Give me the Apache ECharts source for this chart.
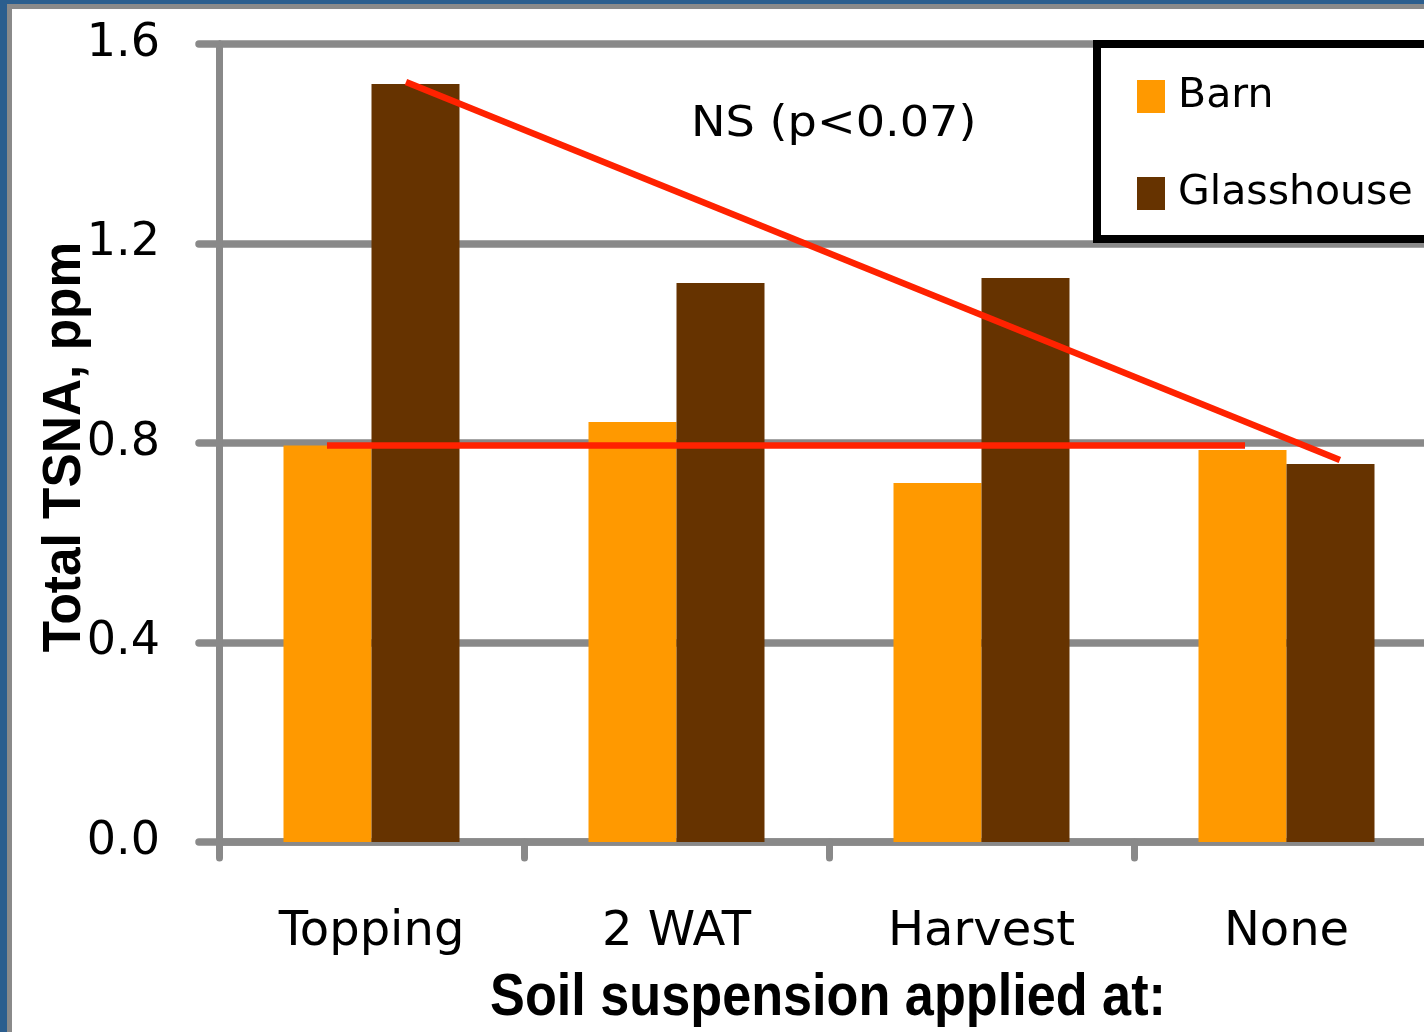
<!DOCTYPE html>
<html>
<head>
<meta charset="utf-8">
<script src="https://cdn.jsdelivr.net/npm/echarts@6/dist/echarts.min.js"></script>
<style>
  html, body { margin: 0; padding: 0; background: #ffffff; overflow: hidden; }
  /* the plot runs on past the right edge of the page, so the canvas is wider than the window */
  #chart { width: 1460px; height: 1032px; }
</style>
</head>
<body>
<div id="chart"></div>
<script>
// Soil suspension timing vs. total TSNA
const categories = ['Topping', '2 WAT', 'Harvest', 'None'];
const barnValues = [0.795, 0.842, 0.72, 0.786];
const glasshouseValues = [1.52, 1.121, 1.131, 0.758];
const yTicks = { min: 0, max: 1.6, interval: 0.4 };

// Trend lines, in (category position, ppm); category positions run 0..4 across the axis
const barnTrend = [[0.354, 0.795], [3.364, 0.795]];
const glasshouseTrend = [[0.613, 1.524], [3.675, 0.766]];

const seriesNames = ['Barn', 'Glasshouse'];
const annotation = 'NS (p<0.07)';
const xTitle = 'Soil suspension applied at:';
const yTitle = 'Total TSNA, ppm';

const GRID_GRAY = '#898989';
const TREND_RED = '#ff2200';
const BASE_FONT = 'DejaVu Sans';
const TITLE_FONT = '"Liberation Sans", Arial, sans-serif';

const chart = echarts.init(document.getElementById('chart'), null, { renderer: 'canvas' });

chart.setOption({
  backgroundColor: '#ffffff',
  animation: false,
  grid: { left: 219, top: 44, width: 1220, height: 798, containLabel: false },
  legend: {
    data: seriesNames,
    orient: 'vertical',
    left: 1097,
    top: 44,
    padding: [32, 200, 25, 40],
    itemGap: 56,
    itemWidth: 28,
    itemHeight: 33,
    icon: 'rect',
    backgroundColor: '#ffffff',
    borderColor: '#000000',
    borderWidth: 8,
    textStyle: { fontFamily: BASE_FONT, fontSize: 41, color: '#000000', lineHeight: 33, padding: [0, 0, 0, 8] }
  },
  xAxis: [
    {
      type: 'category',
      data: categories,
      boundaryGap: true,
      axisLine: { show: true, lineStyle: { color: GRID_GRAY, width: 7.5, cap: 'round' } },
      axisTick: { show: true, inside: false, length: 16, alignWithLabel: false, lineStyle: { color: GRID_GRAY, width: 7, cap: 'round' } },
      axisLabel: { fontFamily: BASE_FONT, fontSize: 48, color: '#000000', margin: 67, lineHeight: 48 },
      splitLine: { show: false }
    },
    {
      type: 'value',
      min: 0,
      max: 4,
      show: false
    }
  ],
  yAxis: {
    type: 'value',
    min: yTicks.min,
    max: yTicks.max,
    interval: yTicks.interval,
    axisLine: { show: true, lineStyle: { color: GRID_GRAY, width: 7, cap: 'round' } },
    axisTick: { show: true, inside: false, length: 20, lineStyle: { color: GRID_GRAY, width: 7.5, cap: 'round' } },
    axisLabel: {
      fontFamily: BASE_FONT, fontSize: 46, color: '#000000', margin: 59,
      formatter: v => v.toFixed(1)
    },
    splitLine: { show: true, lineStyle: { color: GRID_GRAY, width: 7.5 } }
  },
  series: [
    {
      name: seriesNames[0],
      type: 'bar',
      data: barnValues,
      barWidth: 88,
      barGap: '0%',
      itemStyle: { color: '#ff9900' },
      z: 2
    },
    {
      name: seriesNames[1],
      type: 'bar',
      data: glasshouseValues,
      barWidth: 88,
      barGap: '0%',
      itemStyle: { color: '#663300' },
      z: 2
    },
    {
      name: 'barn-trend',
      type: 'line',
      xAxisIndex: 1,
      yAxisIndex: 0,
      data: barnTrend,
      symbol: 'none',
      lineStyle: { color: TREND_RED, width: 6.5, cap: 'butt' },
      z: 5,
      silent: true
    },
    {
      name: 'glasshouse-trend',
      type: 'line',
      xAxisIndex: 1,
      yAxisIndex: 0,
      data: glasshouseTrend,
      symbol: 'none',
      lineStyle: { color: TREND_RED, width: 6.5, cap: 'butt' },
      z: 5,
      silent: true
    }
  ],
  graphic: [
    // slide frame along the top and left edges
    { type: 'rect', left: 0, top: 0, shape: { width: 1460, height: 4 }, style: { fill: '#2b5e8e' }, z: 10 },
    { type: 'rect', left: 0, top: 0, shape: { width: 7, height: 1032 }, style: { fill: '#2b5e8e' }, z: 10 },
    { type: 'rect', left: 7, top: 4, shape: { width: 1453, height: 5 }, style: { fill: '#8a8a8a' }, z: 10 },
    { type: 'rect', left: 7, top: 4, shape: { width: 5, height: 1028 }, style: { fill: '#8a8a8a' }, z: 10 },
    {
      type: 'text',
      x: 691,
      y: 104,
      scaleX: 1.1,
      style: { text: annotation, fontFamily: BASE_FONT, fontSize: 42, fill: '#000000' },
      z: 10
    },
    // axis titles in a condensed bold face
    {
      type: 'text',
      x: 828,
      y: 998,
      scaleX: 0.87,
      style: {
        text: xTitle, fontFamily: TITLE_FONT, fontWeight: 'bold', fontSize: 60, fill: '#000000',
        align: 'center', verticalAlign: 'middle'
      },
      z: 10
    },
    {
      type: 'text',
      x: 65,
      y: 447,
      rotation: Math.PI / 2,
      scaleX: 0.97,
      style: {
        text: yTitle, fontFamily: TITLE_FONT, fontWeight: 'bold', fontSize: 53, fill: '#000000',
        align: 'center', verticalAlign: 'middle'
      },
      z: 10
    }
  ]
});
</script>
</body>
</html>
